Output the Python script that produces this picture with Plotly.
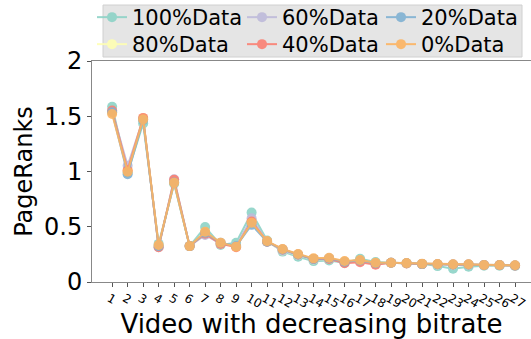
import plotly.graph_objects as go

videos = list(range(1, 28))
tick_labels = [str(v) for v in videos]

series_names = ["100%Data", "80%Data", "60%Data", "40%Data", "20%Data", "0%Data"]
colors = ["#8dd3c7", "#ffffb3", "#bebada", "#fb8072", "#80b1d3", "#fdb462"]

d100 = [1.586, 0.991, 1.435, 0.345, 0.890, 0.325, 0.497, 0.335, 0.355, 0.628, 0.375, 0.275, 0.229, 0.189, 0.194, 0.174, 0.211, 0.181, 0.174, 0.169, 0.164, 0.144, 0.120, 0.138, 0.148, 0.148, 0.146]
d80 = [1.536, 1.021, 1.485, 0.325, 0.910, 0.325, 0.446, 0.345, 0.325, 0.557, 0.365, 0.285, 0.244, 0.204, 0.209, 0.184, 0.194, 0.169, 0.174, 0.169, 0.162, 0.159, 0.156, 0.156, 0.152, 0.152, 0.148]
d60 = [1.546, 1.052, 1.475, 0.315, 0.930, 0.325, 0.426, 0.345, 0.325, 0.577, 0.365, 0.285, 0.244, 0.204, 0.209, 0.174, 0.189, 0.164, 0.174, 0.169, 0.162, 0.159, 0.156, 0.156, 0.152, 0.152, 0.148]
d40 = [1.551, 1.011, 1.485, 0.315, 0.925, 0.325, 0.436, 0.345, 0.315, 0.547, 0.365, 0.295, 0.249, 0.209, 0.209, 0.169, 0.179, 0.157, 0.174, 0.167, 0.162, 0.160, 0.158, 0.158, 0.154, 0.153, 0.150]
d20 = [1.536, 0.975, 1.465, 0.325, 0.900, 0.325, 0.446, 0.355, 0.325, 0.517, 0.365, 0.295, 0.249, 0.209, 0.214, 0.184, 0.194, 0.169, 0.174, 0.169, 0.162, 0.160, 0.158, 0.158, 0.154, 0.153, 0.150]
d0 = [1.521, 0.998, 1.472, 0.335, 0.899, 0.325, 0.455, 0.356, 0.320, 0.537, 0.370, 0.299, 0.253, 0.214, 0.220, 0.190, 0.199, 0.174, 0.174, 0.171, 0.166, 0.163, 0.161, 0.161, 0.154, 0.154, 0.151]
all_data = [d100, d80, d60, d40, d20, d0]

font = "DejaVu Sans"
W, H = 531, 339
L, B = 92, 57
PW, PH = W - L, H - B          # paper area (no top/right margin)
plot_top = 61                   # pixel row of y=2


def px(xp):
    return (xp - L) / PW


def py(yp):
    return (PH - yp) / PH


# legend slot (pixel left of legend box, pixel top) per series; matplotlib ncol=3 layout
col_x = [92, 92, 242, 242, 381, 381]
row_y = [-3, 24, -3, 24, -3, 24]
legend_ids = ["legend", "legend2", "legend3", "legend4", "legend5", "legend6"]

fig = go.Figure()
for name, color, vals, lg in zip(series_names, colors, all_data, legend_ids):
    fig.add_trace(go.Scatter(
        x=videos, y=vals, name=name, mode="lines+markers",
        line=dict(color=color, width=2),
        marker=dict(color=color, size=10),
        opacity=0.9,
        legend=lg,
    ))

leg_common = dict(
    xanchor="left", yanchor="top",
    bgcolor="rgba(0,0,0,0)", borderwidth=0,
    font=dict(family=font, size=21, color="black"),
    itemwidth=30, tracegroupgap=0, orientation="v",
)
legends = {lg: dict(x=px(cx), y=py(ry), **leg_common)
           for lg, cx, ry in zip(legend_ids, col_x, row_y)}

fig.update_layout(
    width=W, height=H,
    margin=dict(l=L, r=0, t=0, b=B, autoexpand=False),
    paper_bgcolor="white", plot_bgcolor="white",
    font=dict(family=font, color="black"),
    showlegend=True,
    shapes=[dict(
        type="rect", xref="paper", yref="paper",
        x0=px(103), x1=px(522), y0=py(57), y1=py(5),
        fillcolor="#e5e5e5", line=dict(color="#d0d0d0", width=1),
        layer="below",
    )],
    xaxis=dict(
        range=[-0.3, 28.03], automargin=False,
        tickmode="array", tickvals=videos, ticktext=tick_labels,
        tickangle=30, tickfont=dict(family=font, size=12, color="black"),
        ticklabelshift=-3,
        ticks="outside", ticklen=4, tickcolor="#555", tickwidth=1,
        showline=True, linecolor="#888", linewidth=1, mirror=True,
        showgrid=False, zeroline=False,
        title=dict(text="Video with decreasing bitrate",
                   font=dict(family=font, size=26, color="black"), standoff=24),
    ),
    yaxis=dict(
        range=[0, 2], automargin=False, domain=[0, (H - B - plot_top) / PH],
        tickmode="array", tickvals=[0, 0.5, 1, 1.5, 2], ticktext=["0", "0.5", "1", "1.5", "2"],
        tickfont=dict(family=font, size=24, color="black"),
        ticks="outside", ticklen=4, tickcolor="#555", tickwidth=1,
        showline=True, linecolor="#888", linewidth=1,
        showgrid=False, zeroline=False,
        title=dict(text="PageRanks", font=dict(family=font, size=24, color="black"), standoff=4),
    ),
    **legends,
)

fig.write_html("out.html", config={"displayModeBar": False},
               post_script="document.body.style.margin='0px';")
